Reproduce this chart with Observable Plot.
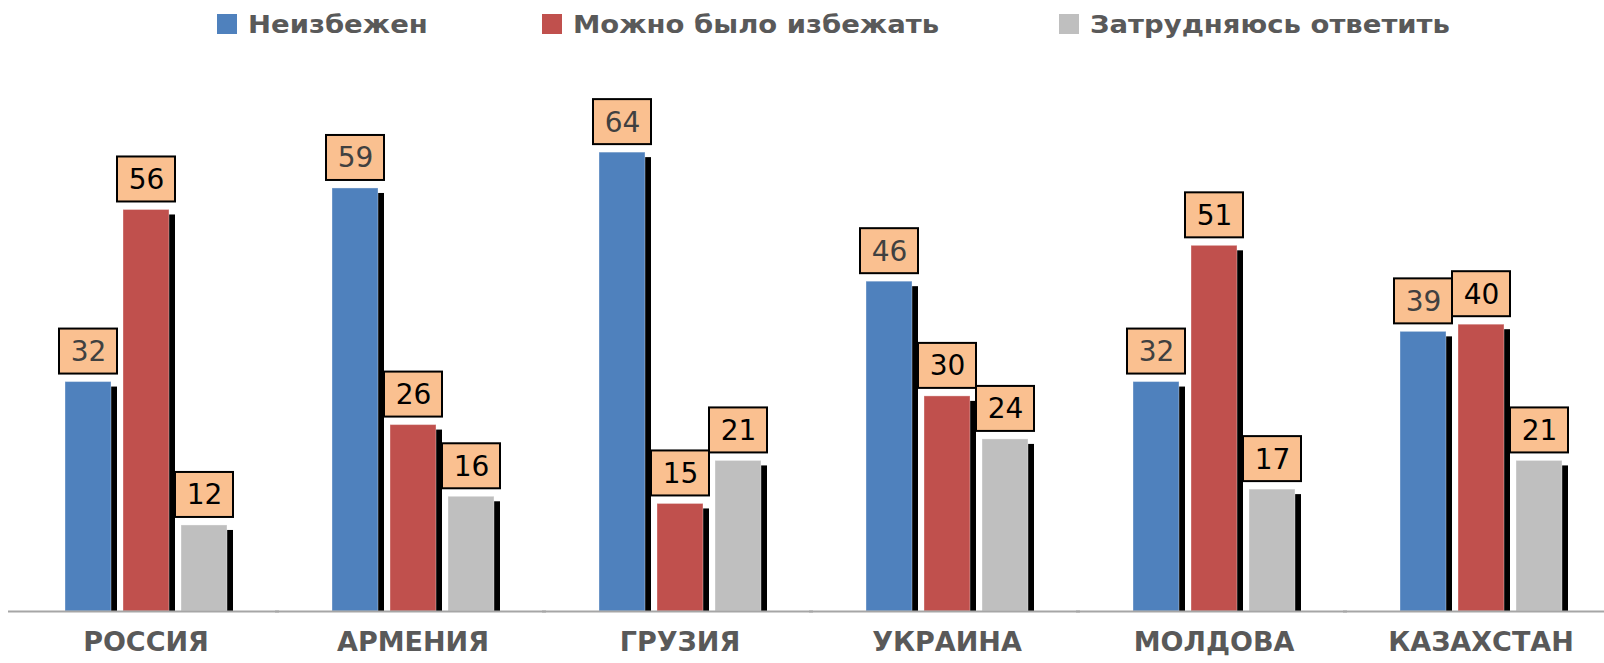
<!DOCTYPE html>
<html>
<head>
<meta charset="utf-8">
<script src="https://cdn.jsdelivr.net/npm/d3@7"></script>
<script src="https://cdn.jsdelivr.net/npm/@observablehq/plot@0.6"></script>
<style>
  html, body { margin: 0; padding: 0; background: #fff; }
  body { width: 1604px; height: 663px; overflow: hidden; font-family: "DejaVu Sans", sans-serif; }
  #legend { position: relative; width: 1604px; height: 52px; }
  .item { position: absolute; top: 0; height: 48px; display: flex; align-items: center; }
  .sw { width: 20px; height: 20px; margin-right: 11px; }
  .lbl { font-weight: bold; font-size: 25px; color: #595959; white-space: nowrap; display: inline-block; transform: scaleX(1.1); transform-origin: left center; }
  #chart svg { display: block; overflow: visible; }
</style>
</head>
<body>
<div id="legend"></div>
<div id="chart"></div>
<script>
const countries = ["РОССИЯ", "АРМЕНИЯ", "ГРУЗИЯ", "УКРАИНА", "МОЛДОВА", "КАЗАХСТАН"];
const seriesNames = ["Неизбежен", "Можно было избежать", "Затрудняюсь ответить"];
const seriesColors = ["#4F81BD", "#C0504D", "#BFBFBF"];
const labelColors = ["#404040", "#000000", "#000000"];
const valuesInevitable = [32, 59, 64, 46, 32, 39];
const valuesAvoidable = [56, 26, 15, 30, 51, 40];
const valuesUnsure = [12, 16, 21, 24, 17, 21];

const seriesValues = [valuesInevitable, valuesAvoidable, valuesUnsure];
const data = [];
countries.forEach((c, i) => {
  seriesNames.forEach((s, j) => {
    data.push({country: c, series: s, value: seriesValues[j][i]});
  });
});

// Legend
const legendPos = [217, 542, 1059];
const legend = document.getElementById("legend");
seriesNames.forEach((s, j) => {
  const it = document.createElement("div");
  it.className = "item";
  it.style.left = legendPos[j] + "px";
  it.innerHTML = `<div class="sw" style="background:${seriesColors[j]}"></div><span class="lbl">${s}</span>`;
  legend.appendChild(it);
});

const H = 611;
const base = 559;
const pxPerUnit = 7.17;

const chart = Plot.plot({
  width: 1604,
  height: H,
  marginTop: 0,
  marginLeft: 11,
  marginRight: 0,
  marginBottom: H - base,
  fx: {domain: countries, range: [11.4, 1614.6], padding: 0, axis: null, label: null},
  x: {domain: seriesNames, paddingInner: 0.212, paddingOuter: 0.871, axis: null, label: null},
  y: {domain: [0, 70], range: [base, base - 70 * pxPerUnit], axis: null, label: null},
  color: {domain: seriesNames, range: seriesColors},
  marks: [
    Plot.barY(data, {fx: "country", x: "series", y: "value", fill: "#000", dx: 6, insetTop: 5}),
    Plot.barY(data, {fx: "country", x: "series", y: "value", fill: "series", stroke: "#ffffff", strokeOpacity: 0.35, strokeWidth: 1}),
    Plot.ruleY([0], {stroke: "#a6a6a6", strokeWidth: 2, insetLeft: -4}),
    Plot.barY(data, {fx: "country", x: "series", y1: "value", y2: "value",
      insetTop: -53, insetBottom: 8, insetLeft: -6, insetRight: -6,
      fill: "#FAC090", stroke: "#000", strokeWidth: 2}),
    Plot.text(data, {fx: "country", x: "series", y: "value", text: d => String(d.value),
      dy: -30, fontSize: 28, fontFamily: "DejaVu Sans",
      fill: d => labelColors[seriesNames.indexOf(d.series)]}),
    Plot.text(countries, {fx: d => d, text: d => d, frameAnchor: "bottom", dy: 39,
      fontSize: 27, fontWeight: "bold", fontFamily: "DejaVu Sans", fill: "#595959"})
  ]
});
document.getElementById("chart").appendChild(chart);
</script>
</body>
</html>
